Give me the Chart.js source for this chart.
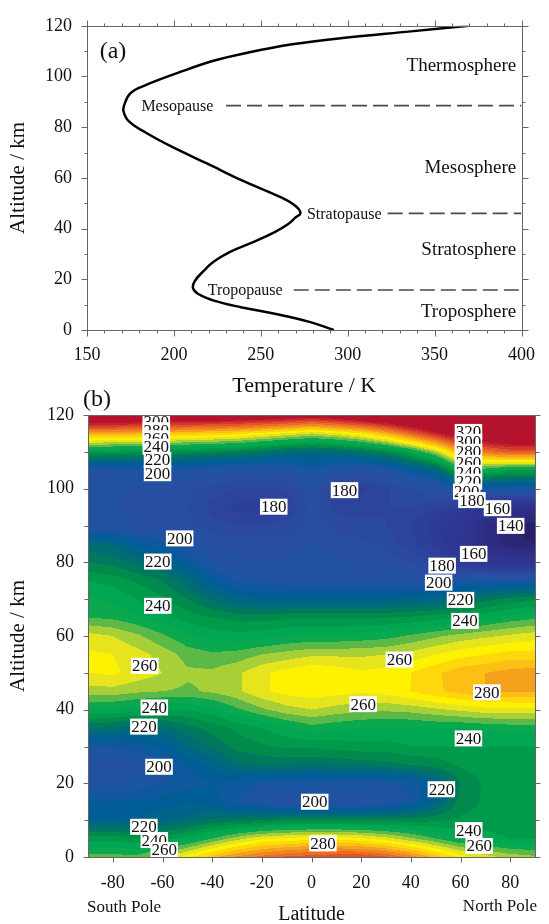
<!DOCTYPE html>
<html>
<head>
<meta charset="utf-8">
<script src="https://cdn.jsdelivr.net/npm/chart.js@4.4.0/dist/chart.umd.min.js"></script>
<style>
  html, body { margin: 0; padding: 0; background: #fff; overflow: hidden; width: 549px; height: 924px; }
  #wrapA { position: absolute; left: 0; top: 0; width: 549px; height: 400px; }
  #wrapB { position: absolute; left: 0; top: 390px; width: 549px; height: 541px; }
</style>
</head>
<body>
<div id="wrapA"><canvas id="profileChart"></canvas></div>
<div id="wrapB"><canvas id="latChart"></canvas></div>
<script>
// ---- panel (a): mean temperature profile ----
var profileAlt  = [0, 3.2, 6.4, 9, 11.6, 14.2, 16.5, 19.3, 23.2, 27, 30.9, 34.8, 38.6, 41.9, 44.4, 46.1, 48.9, 52.2, 59.2, 65.7, 72.1, 77.9, 82.4, 86.3, 88.9, 93.4, 96.6, 101.7, 106.2, 109.4, 112.7, 115.2, 117.8, 120];
var profileTemp = [292, 278, 258, 238.5, 223, 214, 211, 212, 217, 223, 232.6, 246, 258, 266, 270, 272.8, 270, 262, 238.5, 219, 199.3, 183.7, 174, 171, 171.5, 175, 183.7, 203.3, 222.8, 242.4, 268, 297, 336.4, 369.7];

var pauseNames = ['Mesopause', 'Stratopause', 'Tropopause'];
var pauseAlt   = [88.5, 46, 15.8];
var pauseLabelT = [202, 298, 241];
var pauseDashFrom = [230, 323, 269];

var layerNames = ['Thermosphere', 'Mesosphere', 'Stratosphere', 'Troposphere'];
var layerAlt   = [104, 64, 31.5, 7];

// ---- panel (b): zonal mean temperature (K), rows = altitude, cols = latitude ----
var lats = [-90, -80, -70, -60, -50, -40, -30, -20, -10, 0, 10, 20, 30, 40, 50, 60, 70, 80, 90];
var alts = [0, 5, 10, 15, 20, 25, 30, 35, 40, 45, 50, 55, 60, 65, 70, 75, 80, 85, 90, 95, 100, 105, 110, 115, 120];
var temps = [
  [252, 252, 252, 258, 268, 278, 286, 292, 296, 298, 300, 300, 296, 288, 278, 268, 262, 258, 256],
  [238, 238, 236, 238, 242, 250, 258, 264, 266, 268, 268, 266, 262, 256, 250, 244, 242, 240, 240],
  [215, 215, 216, 218, 222, 226, 228, 230, 232, 232, 232, 232, 232, 233, 234, 236, 237, 237, 237],
  [210, 210, 211, 213, 214, 212, 205, 200, 197, 197, 197, 198, 200, 205, 218, 232, 236, 237, 237],
  [200, 200, 202, 205, 208, 210, 208, 205, 203, 203, 203, 203, 204, 206, 215, 230, 236, 237, 237],
  [196, 196, 198, 203, 210, 216, 224, 226, 226, 225, 226, 227, 228, 230, 232, 236, 238, 238, 238],
  [205, 205, 208, 212, 220, 226, 232, 234, 236, 236, 237, 238, 238, 240, 240, 240, 240, 240, 240],
  [225, 224, 220, 222, 228, 232, 236, 240, 244, 248, 246, 245, 244, 244, 245, 245, 246, 247, 247],
  [245, 244, 242, 240, 240, 243, 249, 254, 258, 260, 258, 256, 256, 257, 259, 261, 263, 263, 263],
  [258, 258, 256, 255, 254, 256, 259, 264, 267, 268, 267, 266, 267, 270, 274, 277, 280, 281, 281],
  [265, 266, 263, 260, 256, 256, 259, 264, 267, 270, 268, 266, 267, 270, 274, 278, 280, 282, 283],
  [266, 265, 262, 258, 253, 251, 252, 255, 257, 259, 259, 259, 260, 262, 265, 268, 270, 272, 272],
  [262, 260, 256, 251, 246, 243, 242, 243, 245, 246, 246, 247, 248, 251, 254, 257, 259, 261, 263],
  [250, 249, 246, 242, 238, 235, 233, 233, 234, 234, 234, 234, 235, 236, 238, 240, 244, 247, 249],
  [246, 244, 240, 236, 230, 224, 218, 216, 216, 216, 216, 216, 216, 217, 218, 222, 228, 232, 234],
  [240, 238, 234, 230, 222, 212, 204, 201, 200, 200, 200, 200, 200, 199, 200, 203, 205, 205, 205],
  [230, 228, 224, 220, 210, 200, 196, 195, 196, 197, 196, 195, 194, 190, 183, 172, 165, 163, 163],
  [222, 220, 212, 206, 200, 195, 193, 192, 193, 196, 192, 191, 189, 182, 174, 160, 150, 142, 140],
  [198, 197, 195, 193, 191, 187, 185, 185, 187, 193, 188, 187, 185, 180, 172, 163, 150, 140, 137],
  [195, 195, 194, 193, 190, 183, 178, 177, 179, 192, 183, 182, 185, 185, 180, 174, 164, 156, 155],
  [196, 196, 195, 194, 192, 188, 185, 184, 186, 195, 182, 179, 184, 190, 195, 205, 205, 205, 205],
  [200, 200, 202, 203, 201, 199, 198, 197, 198, 205, 198, 197, 200, 210, 218, 245, 246, 240, 240],
  [238, 237, 236, 233, 233, 232, 230, 226, 222, 220, 222, 226, 232, 242, 258, 282, 290, 296, 296],
  [282, 282, 280, 278, 276, 274, 272, 268, 264, 260, 264, 270, 280, 294, 308, 320, 328, 332, 332],
  [332, 332, 330, 328, 327, 327, 326, 324, 322, 318, 322, 328, 334, 342, 346, 350, 352, 352, 352]
];
var latTicks = [-80, -60, -40, -20, 0, 20, 40, 60, 80];

// contour labels: [latitude, altitude, value], drawn in this order
var contourLabels = [
  [-62.5, 118.2, 300], [-62.5, 115.9, 280], [-62.5, 113.7, 260], [-62.5, 111.4, 240], [-62, 107.8, 220], [-62, 104.2, 200],
  [63.2, 115.4, 320], [63.2, 112.7, 300], [63.2, 110, 280], [63.2, 107, 260], [63.2, 104.3, 240], [63.2, 101.9, 220], [62.5, 99.2, 200],
  [64.6, 96.9, 180], [74.9, 94.7, 160], [80.2, 89.9, 140],
  [-15.2, 95.1, 180], [13.3, 99.6, 180], [-53.1, 86.5, 200], [-61.9, 80.2, 220], [-61.9, 68.2, 240],
  [65.3, 82.3, 160], [52.6, 79.1, 180], [51.2, 74.5, 200], [60, 69.8, 220], [61.8, 64.1, 240],
  [35.4, 53.6, 260], [-67.1, 51.9, 260], [70.6, 44.7, 280], [20.8, 41.5, 260],
  [-63.3, 40.6, 240], [-67.5, 35.4, 220], [63.2, 32.2, 240], [-61.4, 24.5, 200],
  [52.3, 18.4, 220], [1.3, 15.0, 200], [-67.5, 8.2, 220], [63.3, 7.3, 240],
  [-63.3, 4.6, 240], [4.6, 3.7, 280], [67.5, 3.0, 260], [-59.3, 1.9, 260]
];

var SERIF = "'Liberation Serif', 'Times New Roman', serif";
var INK = '#111';

// filled-contour colours, one per 5 K band
var bandFloor = [0, 140, 145, 150, 155, 160, 165, 170, 175, 180, 185, 190, 195, 200, 205, 210, 215, 220, 225, 230, 235, 240, 245, 250, 255, 260, 265, 270, 275, 280, 285, 290, 295, 300, 305, 310];
var bandColor = ['#2a1e6a', '#2c2676', '#2d2c80', '#2e3088', '#2e338e', '#2e3592', '#2e3894', '#2e3b96', '#2d3f98', '#2c449b',
                 '#2a4a9f', '#274ea1', '#2351a2', '#1c54a1', '#0f589d', '#005d96', '#006488', '#006d74', '#00785e', '#008a4c',
                 '#009a4b', '#00a651', '#0aa84f', '#5cb947', '#a6cf38', '#e6e51d', '#fff200', '#ffd80c', '#fcbf14', '#f5a11d',
                 '#f08522', '#ec6c25', '#e35328', '#d43a2b', '#c4232d', '#b5122e'];
var bandRGB = bandColor.map(function (h) {
  return [parseInt(h.substr(1, 2), 16), parseInt(h.substr(3, 2), 16), parseInt(h.substr(5, 2), 16)];
});

function colourFor(t) {
  var k = 0;
  for (var i = 0; i < bandFloor.length; i++) { if (t >= bandFloor[i]) k = i; }
  return bandRGB[k];
}

function findCell(arr, v) {
  for (var i = 0; i < arr.length - 2; i++) { if (v < arr[i + 1]) return i; }
  return arr.length - 2;
}

function tempAt(lat, alt) {
  var i = findCell(lats, lat), j = findCell(alts, alt);
  var fx = (lat - lats[i]) / (lats[i + 1] - lats[i]);
  var fy = (alt - alts[j]) / (alts[j + 1] - alts[j]);
  fx = Math.max(0, Math.min(1, fx)); fy = Math.max(0, Math.min(1, fy));
  var a = temps[j][i], b = temps[j][i + 1], c = temps[j + 1][i], d = temps[j + 1][i + 1];
  return (a * (1 - fx) + b * fx) * (1 - fy) + (c * (1 - fx) + d * fx) * fy;
}

// ---- plugins ----
var framePlugin = {
  id: 'frame',
  afterDraw: function (chart, args, opts) {
    var ctx = chart.ctx, a = chart.chartArea, sx = chart.scales.x, sy = chart.scales.y;
    var L = Math.round(a.left) + 0.5, R = Math.round(a.right) + 0.5, T = Math.round(a.top) + 0.5, B = Math.round(a.bottom) + 0.5;
    ctx.save();
    ctx.strokeStyle = '#666';
    ctx.lineWidth = 1;
    ctx.strokeRect(L, T, R - L, B - T);
    ctx.beginPath();
    for (var v = opts.xFrom; v <= opts.xTo + 1e-6; v += opts.xStep) {
      var px = Math.round(sx.getPixelForValue(v)) + 0.5;
      var len = Math.abs(v % opts.xMajor) < 1e-6 ? opts.major : opts.minor;
      if (opts.bottom) { ctx.moveTo(px, B); ctx.lineTo(px, B + len); }
      if (opts.top) { ctx.moveTo(px, T); ctx.lineTo(px, T - len); }
    }
    for (var w = opts.yFrom; w <= opts.yTo + 1e-6; w += opts.yStep) {
      var py = Math.round(sy.getPixelForValue(w)) + 0.5;
      var ln = Math.abs(w % opts.yMajor) < 1e-6 ? opts.major : opts.minor;
      ctx.moveTo(L, py); ctx.lineTo(L - ln, py);
      ctx.moveTo(R, py); ctx.lineTo(R + ln, py);
    }
    ctx.stroke();
    ctx.restore();
  }
};

var profileText = {
  id: 'profileText',
  afterDatasetsDraw: function (chart) {
    var ctx = chart.ctx, a = chart.chartArea, sx = chart.scales.x, sy = chart.scales.y;
    ctx.save();
    ctx.fillStyle = INK;
    ctx.textBaseline = 'middle';
    ctx.font = '24px ' + SERIF;
    ctx.textAlign = 'center';
    ctx.fillText('(a)', a.left + 26, a.top + 26);
    ctx.font = '19px ' + SERIF;
    ctx.textAlign = 'right';
    layerNames.forEach(function (n, i) {
      ctx.fillText(n, sx.getPixelForValue(397), sy.getPixelForValue(layerAlt[i]));
    });
    ctx.font = '16px ' + SERIF;
    ctx.textAlign = 'center';
    pauseNames.forEach(function (n, i) {
      ctx.fillText(n, sx.getPixelForValue(pauseLabelT[i]), sy.getPixelForValue(pauseAlt[i]) + 1);
    });
    ctx.restore();
  }
};

var heatPlugin = {
  id: 'heat',
  beforeDatasetsDraw: function (chart) {
    var a = chart.chartArea, sx = chart.scales.x, sy = chart.scales.y;
    var x0 = Math.round(a.left), y0 = Math.round(a.top);
    var w = Math.round(a.right) - x0, h = Math.round(a.bottom) - y0;
    var off = document.createElement('canvas');
    off.width = w; off.height = h;
    var octx = off.getContext('2d');
    var img = octx.createImageData(w, h);
    var colLat = [], rowAlt = [];
    for (var i = 0; i < w; i++) colLat.push(sx.getValueForPixel(x0 + i + 0.5));
    for (var j = 0; j < h; j++) rowAlt.push(sy.getValueForPixel(y0 + j + 0.5));
    var p = 0;
    for (j = 0; j < h; j++) {
      for (i = 0; i < w; i++) {
        var c = colourFor(tempAt(colLat[i], rowAlt[j]));
        img.data[p] = c[0]; img.data[p + 1] = c[1]; img.data[p + 2] = c[2]; img.data[p + 3] = 255;
        p += 4;
      }
    }
    octx.putImageData(img, 0, 0);
    chart.ctx.drawImage(off, x0, y0);
  }
};

var labelPlugin = {
  id: 'contourText',
  afterDatasetsDraw: function (chart) {
    var ctx = chart.ctx, a = chart.chartArea;
    var meta = chart.getDatasetMeta(0);
    ctx.save();
    ctx.beginPath();
    ctx.rect(a.left, a.top, a.right - a.left, a.bottom - a.top);
    ctx.clip();
    ctx.font = '17px ' + SERIF;
    ctx.textAlign = 'center';
    ctx.textBaseline = 'middle';
    meta.data.forEach(function (pt, k) {
      var txt = String(contourLabels[k][2]);
      var tw = ctx.measureText(txt).width;
      ctx.fillStyle = '#fff';
      ctx.fillRect(pt.x - tw / 2 - 1, pt.y - 8, tw + 2, 16);
      ctx.fillStyle = INK;
      ctx.fillText(txt, pt.x, pt.y + 1);
    });
    ctx.restore();
    ctx.save();
    ctx.fillStyle = INK;
    ctx.textBaseline = 'middle';
    ctx.font = '24px ' + SERIF;
    ctx.textAlign = 'center';
    ctx.fillText('(b)', a.left + 9, a.top - 15);
    ctx.font = '17px ' + SERIF;
    ctx.textAlign = 'left';
    ctx.fillText('South Pole', a.left - 1, a.bottom + 51);
    ctx.textAlign = 'right';
    ctx.fillText('North Pole', a.right + 2, a.bottom + 50);
    ctx.restore();
  }
};

function tickFont(size) { return { family: SERIF, size: size }; }

// ---- chart (a) ----
var profileChart = new Chart(document.getElementById('profileChart'), {
  type: 'scatter',
  data: {
    datasets: [{
      label: 'Temperature',
      data: profileTemp.map(function (t, i) { return { x: t, y: profileAlt[i] }; }),
      showLine: true,
      borderColor: '#000',
      borderWidth: 2.5,
      pointRadius: 0,
      tension: 0.4
    }].concat(pauseAlt.map(function (h, i) {
      return {
        label: pauseNames[i],
        data: [{ x: pauseDashFrom[i], y: h }, { x: 400, y: h }],
        showLine: true,
        borderColor: '#4a4a4a',
        borderWidth: 1.6,
        borderDash: [15, 6],
        pointRadius: 0
      };
    }))
  },
  options: {
    animation: false,
    responsive: true,
    maintainAspectRatio: false,
    layout: { padding: { top: 19.5, right: 15, left: 0, bottom: 0 } },
    plugins: {
      legend: { display: false },
      tooltip: { enabled: false },
      frame: { xFrom: 150, xTo: 400, xStep: 10, xMajor: 50, yFrom: 0, yTo: 120, yStep: 10, yMajor: 20, major: 6, minor: 3, bottom: true, top: true }
    },
    scales: {
      x: {
        type: 'linear', min: 150, max: 400,
        ticks: { stepSize: 50, padding: 14, color: INK, font: tickFont(18), maxRotation: 0 },
        grid: { display: false, drawTicks: false },
        border: { display: false },
        title: { display: true, text: 'Temperature / K', color: INK, font: tickFont(22), padding: { top: 0, bottom: 1 } },
        afterFit: function (s) { s.height = 70; }
      },
      y: {
        type: 'linear', min: 0, max: 120,
        ticks: { stepSize: 20, padding: 15, color: INK, font: tickFont(18) },
        grid: { display: false, drawTicks: false },
        border: { display: false },
        title: { display: true, text: 'Altitude / km', color: INK, font: tickFont(21), padding: { top: 6, bottom: 0 } },
        afterFit: function (s) { s.width = 87; }
      }
    }
  },
  plugins: [framePlugin, profileText]
});

// ---- chart (b) ----
var latChart = new Chart(document.getElementById('latChart'), {
  type: 'scatter',
  data: {
    datasets: [{
      label: 'contour labels',
      data: contourLabels.map(function (c) { return { x: c[0], y: c[1] }; }),
      pointRadius: 0
    }]
  },
  options: {
    animation: false,
    responsive: true,
    maintainAspectRatio: false,
    layout: { padding: { top: 25, right: 14, left: 0, bottom: 0 } },
    plugins: {
      legend: { display: false },
      tooltip: { enabled: false },
      frame: { xFrom: -80, xTo: 80, xStep: 20, xMajor: 20, yFrom: 0, yTo: 120, yStep: 10, yMajor: 20, major: 5, minor: 4, bottom: true, top: false }
    },
    scales: {
      x: {
        type: 'linear', min: -90, max: 90,
        afterBuildTicks: function (s) { s.ticks = latTicks.map(function (v) { return { value: v }; }); },
        ticks: { padding: 15, color: INK, font: tickFont(18), maxRotation: 0 },
        grid: { display: false, drawTicks: false },
        border: { display: false },
        title: { display: true, text: 'Latitude', color: INK, font: tickFont(20), padding: { top: 0, bottom: 4 } },
        afterFit: function (s) { s.height = 74; }
      },
      y: {
        type: 'linear', min: 0, max: 120,
        ticks: { stepSize: 20, padding: 14, color: INK, font: tickFont(18) },
        grid: { display: false, drawTicks: false },
        border: { display: false },
        title: { display: true, text: 'Altitude / km', color: INK, font: tickFont(21), padding: { top: 6, bottom: 0 } },
        afterFit: function (s) { s.width = 88; }
      }
    }
  },
  plugins: [heatPlugin, framePlugin, labelPlugin]
});
</script>
</body>
</html>
